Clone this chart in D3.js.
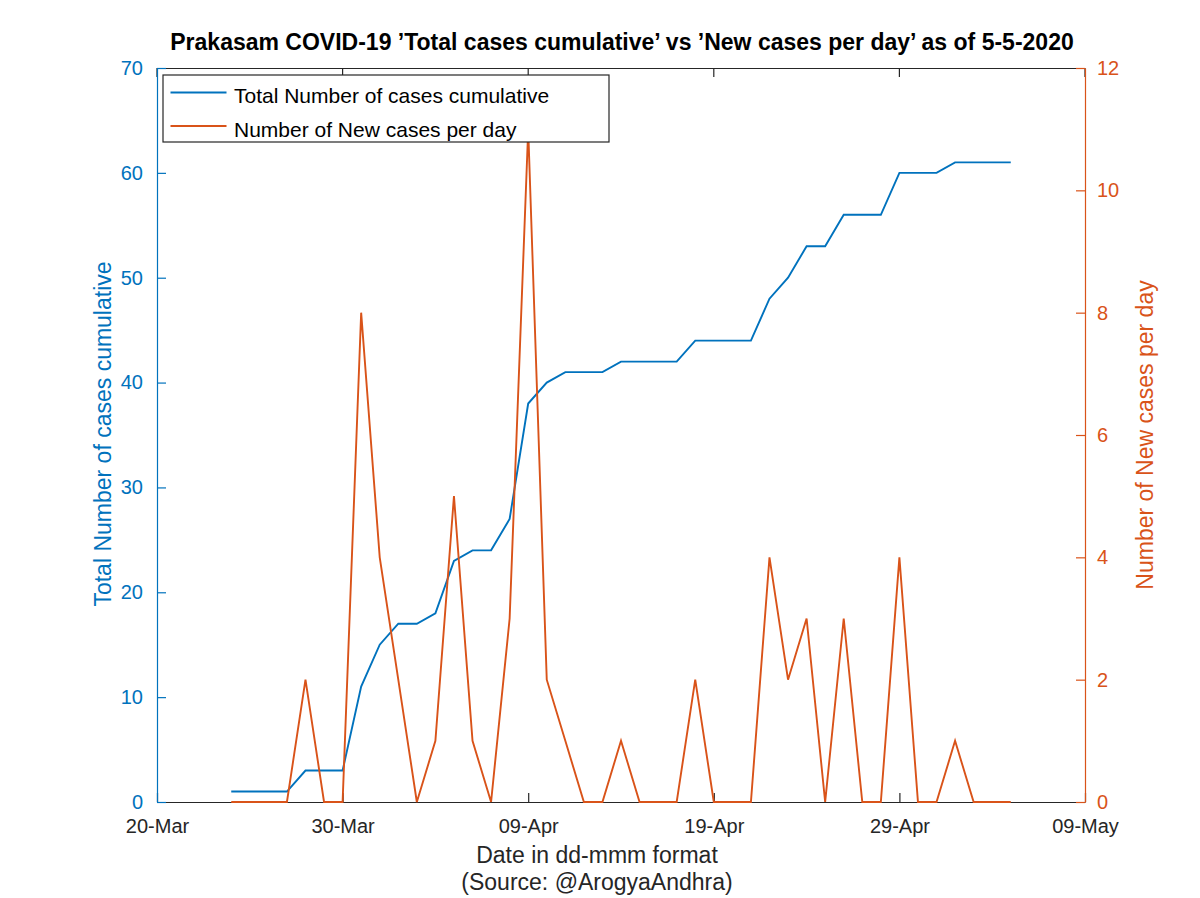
<!DOCTYPE html>
<html>
<head>
<meta charset="utf-8">
<script src="https://cdn.jsdelivr.net/npm/d3@7"></script>
<style>
  html, body { margin: 0; padding: 0; background: #fff; }
  svg { display: block; font-family: "Liberation Sans", Arial, sans-serif; }
</style>
</head>
<body>
<svg id="chart" width="1200" height="898"></svg>
<script>
// ---- data ----
const dates = [
  "2020-03-24","2020-03-25","2020-03-26","2020-03-27","2020-03-28","2020-03-29","2020-03-30","2020-03-31",
  "2020-04-01","2020-04-02","2020-04-03","2020-04-04","2020-04-05","2020-04-06","2020-04-07","2020-04-08",
  "2020-04-09","2020-04-10","2020-04-11","2020-04-12","2020-04-13","2020-04-14","2020-04-15","2020-04-16",
  "2020-04-17","2020-04-18","2020-04-19","2020-04-20","2020-04-21","2020-04-22","2020-04-23","2020-04-24",
  "2020-04-25","2020-04-26","2020-04-27","2020-04-28","2020-04-29","2020-04-30","2020-05-01","2020-05-02",
  "2020-05-03","2020-05-04","2020-05-05"
];
const totalCases = [1,1,1,1,3,3,3,11,15,17,17,18,23,24,24,27,38,40,41,41,41,42,42,42,42,44,44,44,44,48,50,53,53,56,56,56,60,60,60,61,61,61,61];
const newCases   = [0,0,0,0,2,0,0,8,4,2,0,1,5,1,0,3,11,2,1,0,0,1,0,0,0,2,0,0,0,4,2,3,0,3,0,0,4,0,0,1,0,0,0];
const xTickDates = ["2020-03-20","2020-03-30","2020-04-09","2020-04-19","2020-04-29","2020-05-09"];
const xTickLabels = ["20-Mar","30-Mar","09-Apr","19-Apr","29-Apr","09-May"];
const leftTicks = [0,10,20,30,40,50,60,70];
const rightTicks = [0,2,4,6,8,10,12];
const seriesNames = ["Total Number of cases cumulative","Number of New cases per day"];
const titleText = "Prakasam COVID-19 \u2019Total cases cumulative\u2019 vs \u2019New cases per day\u2019 as of 5-5-2020";
const xLabelLines = ["Date in dd-mmm format","(Source: @ArogyaAndhra)"];

// ---- layout ----
const blue = "#0072BD", orange = "#D95319", axisCol = "#262626";
const L = 157, R = 1085, T = 68, B = 802;
const FONT = "Liberation Sans, Arial, sans-serif";
const parse = d3.utcParse("%Y-%m-%d");
const svg = d3.select("#chart");

const x = d3.scaleUtc().domain([parse(xTickDates[0]), parse(xTickDates[xTickDates.length-1])]).range([L, R]);
const yL = d3.scaleLinear().domain([0, 70]).range([B, T]);
const yR = d3.scaleLinear().domain([0, 12]).range([B, T]);

const data = dates.map((d, i) => ({ date: parse(d), total: totalCases[i], nw: newCases[i] }));

svg.append("rect").attr("x", L).attr("y", T).attr("width", R - L).attr("height", B - T).attr("fill", "#fff");

// top border line with inward ticks
svg.append("line").attr("x1", L).attr("x2", R).attr("y1", T + 0.5).attr("y2", T + 0.5)
  .attr("stroke", axisCol).attr("stroke-width", 1.2);

const tickVals = xTickDates.map(parse);
const tickSize = 9;

// bottom axis
const xAxis = d3.axisBottom(x).tickValues(tickVals)
  .tickFormat((d, i) => xTickLabels[i]).tickSizeInner(-tickSize).tickSizeOuter(0).tickPadding(17);
const gx = svg.append("g").attr("transform", `translate(0,${B})`).call(xAxis);
gx.select(".domain").attr("stroke", axisCol).attr("stroke-width", 1.2);
gx.selectAll(".tick line").attr("stroke", axisCol).attr("stroke-width", 1.2);
gx.selectAll(".tick text").attr("fill", axisCol).attr("font-size", 20).attr("font-family", FONT);

// top ticks
svg.append("g").selectAll("line").data(tickVals).join("line")
  .attr("x1", d => x(d)).attr("x2", d => x(d)).attr("y1", T).attr("y2", T + tickSize)
  .attr("stroke", axisCol).attr("stroke-width", 1.2);

// left axis
const yAxisL = d3.axisLeft(yL).tickValues(leftTicks).tickSizeInner(-tickSize).tickSizeOuter(0).tickPadding(14);
const gyl = svg.append("g").attr("transform", `translate(${L},0)`).call(yAxisL);
gyl.select(".domain").attr("stroke", blue).attr("stroke-width", 1.2);
gyl.selectAll(".tick line").attr("stroke", blue).attr("stroke-width", 1.2);
gyl.selectAll(".tick text").attr("fill", blue).attr("font-size", 20).attr("font-family", FONT);

// right axis
const yAxisR = d3.axisRight(yR).tickValues(rightTicks).tickSizeInner(-tickSize).tickSizeOuter(0).tickPadding(12);
const gyr = svg.append("g").attr("transform", `translate(${R},0)`).call(yAxisR);
gyr.select(".domain").attr("stroke", orange).attr("stroke-width", 1.2);
gyr.selectAll(".tick line").attr("stroke", orange).attr("stroke-width", 1.2);
gyr.selectAll(".tick text").attr("fill", orange).attr("font-size", 20).attr("font-family", FONT);

// lines
const lineTotal = d3.line().x(d => x(d.date)).y(d => yL(d.total));
const lineNew = d3.line().x(d => x(d.date)).y(d => yR(d.nw));
svg.append("path").datum(data).attr("d", lineTotal).attr("fill", "none")
  .attr("stroke", blue).attr("stroke-width", 1.9).attr("stroke-linejoin", "miter");
svg.append("path").datum(data).attr("d", lineNew).attr("fill", "none")
  .attr("stroke", orange).attr("stroke-width", 1.9).attr("stroke-linejoin", "miter");

// legend
const lg = svg.append("g");
lg.append("rect").attr("x", 163).attr("y", 75).attr("width", 446).attr("height", 67)
  .attr("fill", "#fff").attr("stroke", axisCol).attr("stroke-width", 1.2);
[blue, orange].forEach((c, i) => {
  const yy = 92.5 + i * 33.5;
  lg.append("line").attr("x1", 170.5).attr("x2", 226.5).attr("y1", yy).attr("y2", yy)
    .attr("stroke", c).attr("stroke-width", 1.9);
  lg.append("text").attr("x", 234).attr("y", yy + 10.5).attr("font-size", 21).attr("fill", "#000")
    .text(seriesNames[i]);
});

// title
svg.append("text").attr("x", 622).attr("y", 50).attr("text-anchor", "middle")
  .attr("font-size", 23).attr("font-weight", "bold").attr("fill", "#000").text(titleText);

// axis labels
xLabelLines.forEach((t, i) => {
  svg.append("text").attr("x", 597).attr("y", 863 + i * 27).attr("text-anchor", "middle")
    .attr("font-size", 23).attr("fill", axisCol).text(t);
});
svg.append("text").attr("transform", `translate(111,434) rotate(-90)`).attr("text-anchor", "middle")
  .attr("font-size", 23).attr("fill", blue).text(seriesNames[0]);
svg.append("text").attr("transform", `translate(1153,435) rotate(-90)`).attr("text-anchor", "middle")
  .attr("font-size", 23).attr("fill", orange).text(seriesNames[1]);
</script>
</body>
</html>
